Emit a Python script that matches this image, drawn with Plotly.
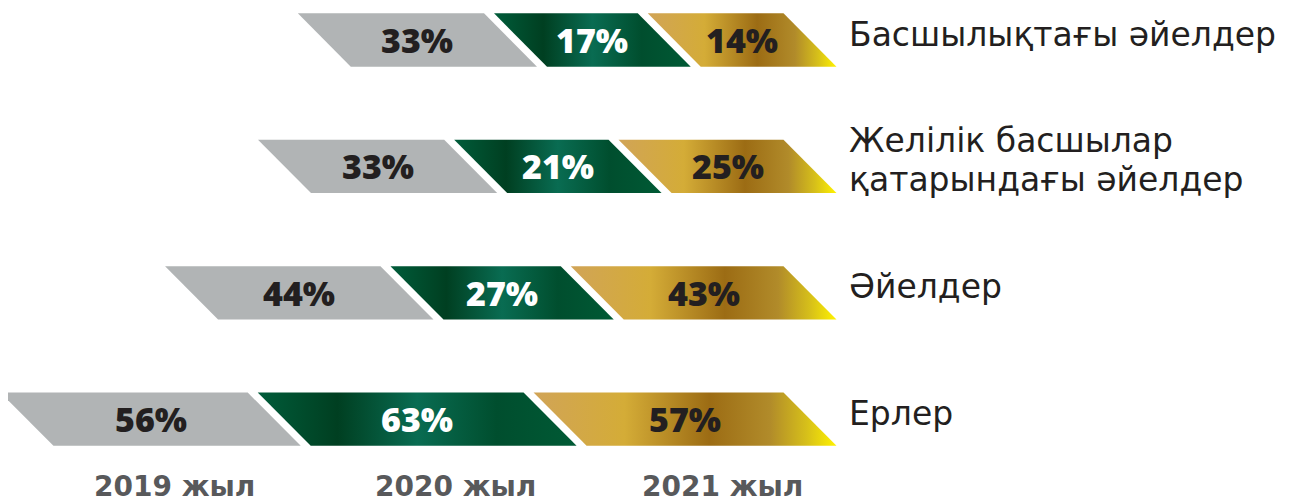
import plotly.graph_objects as go

# ---- data ----
categories = ["Басшылықтағы әйелдер", "Желілік басшылар\nқатарындағы әйелдер", "Әйелдер", "Ерлер"]
years = ["2019 жыл", "2020 жыл", "2021 жыл"]
v2019 = [33, 33, 44, 56]
v2020 = [17, 21, 27, 63]
v2021 = [14, 25, 43, 57]

# ---- styling / geometry ----
OFF = 8                      # page body margin of the browser
W, H = 1299 - OFF, 504 - OFF
PX_PER_UNIT = 2.655          # horizontal scale (px per percentage unit)
RIGHT_PX = 783.5 - OFF       # pixel where bars end (top edge)
PAD = 40.9                   # minimum segment span added to each value
GAP = 10 / PX_PER_UNIT       # white gap between segments
SLANT = 53 / PX_PER_UNIT     # horizontal shift of bottom edge
ROW0_PX, ROW_STEP_PX = 40 - OFF, 126.4
HALF_H = 26.65 / ROW_STEP_PX

x_range = [-RIGHT_PX / PX_PER_UNIT, (W - RIGHT_PX) / PX_PER_UNIT]
y_range = [(H - ROW0_PX) / ROW_STEP_PX, -ROW0_PX / ROW_STEP_PX]

gray_color = "#b1b4b5"
green_scale = [[0, "#005c3a"], [0.25, "#003f21"], [0.5, "#096c52"], [0.75, "#004e2e"], [1, "#005a35"]]
gold_scale = [[0, "#d1a457"], [0.3, "#d4ac37"], [0.58, "#9c6c14"], [0.78, "#b18b2a"], [0.9, "#d6bf1a"], [1, "#fff200"]]

series = [
    dict(values=v2019, fill=dict(fillcolor=gray_color), text="#231f20"),
    dict(values=v2020, fill=dict(fillgradient=dict(type="horizontal", colorscale=green_scale)), text="#ffffff"),
    dict(values=v2021, fill=dict(fillgradient=dict(type="horizontal", colorscale=gold_scale)), text="#231f20"),
]

fig = go.Figure()
annotations = []

for i in range(len(categories)):
    right = 0.0
    for s in reversed(series):
        v = s["values"][i]
        xr = right
        xl = right - (v + PAD) + GAP
        right = right - (v + PAD)
        top, bot = i - HALF_H, i + HALF_H
        fig.add_trace(go.Scatter(
            x=[xl, xr, xr + SLANT, xl + SLANT, xl],
            y=[top, top, bot, bot, top],
            mode="lines", line=dict(width=0), fill="toself",
            hoverinfo="skip", showlegend=False, **s["fill"],
        ))
        annotations.append(dict(
            x=(xl + xr + SLANT) / 2, y=i, xref="x", yref="y",
            text=f"{v}%", showarrow=False, xanchor="center", yanchor="middle",
            font=dict(family="Open Sans", size=34, weight=800, color=s["text"]),
        ))
    # category label
    lines = categories[i].split("\n")
    n = len(lines)
    for k, line in enumerate(lines):
        off = (k - (n - 1) / 2) * (39 / ROW_STEP_PX)
        annotations.append(dict(
            x=SLANT + 10 / PX_PER_UNIT, y=i + off - 6 / ROW_STEP_PX, xref="x", yref="y",
            text=line, showarrow=False, xanchor="left", yanchor="middle",
            font=dict(family="DejaVu Sans", size=33, color="#231f20"),
        ))

year_px = [174, 455, 722]
for yr, px in zip(years, year_px):
    annotations.append(dict(
        x=(px - OFF) / W, y=(486 - OFF - ROW0_PX) / ROW_STEP_PX, xref="paper", yref="y",
        text=yr, showarrow=False, xanchor="center", yanchor="middle",
        font=dict(family="DejaVu Sans", size=28, weight="bold", color="#58595b"),
    ))

fig.update_layout(
    width=W, height=H,
    margin=dict(l=0, r=0, t=0, b=0),
    paper_bgcolor="white", plot_bgcolor="white",
    xaxis=dict(range=x_range, visible=False, fixedrange=True),
    yaxis=dict(range=y_range, visible=False, fixedrange=True),
    annotations=annotations,
    showlegend=False,
)

fig.write_html("out.html")
